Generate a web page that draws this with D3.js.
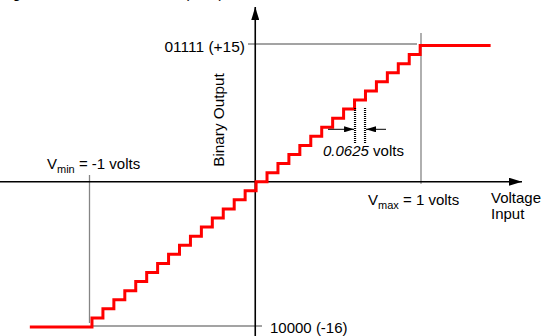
<!DOCTYPE html>
<html><head><meta charset="utf-8">
<script src="https://cdn.jsdelivr.net/npm/d3@7"></script>
<style>
html,body{margin:0;padding:0;background:#fff;}
svg{display:block;font-family:"Liberation Sans",Arial,sans-serif;}
</style></head>
<body><svg id="c" width="560" height="336"></svg>
<script>
// output codes (two's complement 5-bit) and the input voltage where each code begins
const codes = [-15,-14,-13,-12,-11,-10,-9,-8,-7,-6,-5,-4,-3,-2,-1,0,1,2,3,4,5,6,7,8,9,10,11,12,13,14,15];
const transitions = [-0.985,-0.919,-0.853,-0.787,-0.721,-0.655,-0.589,-0.523,-0.457,-0.391,-0.325,-0.259,-0.193,-0.127,-0.061,0.005,0.071,0.137,0.203,0.269,0.335,0.401,0.467,0.533,0.599,0.665,0.731,0.797,0.863,0.929,0.995];
const lowCode = -16, highCode = 15;
const inputStart = -1.36, inputEnd = 1.42;
const vMin = -1, vMax = 1;
const lsbLabel = "0.0625";

const svg = d3.select("#c");
const x = d3.scaleLinear().domain([-1, 1]).range([89.5, 421]);
const y = d3.scaleLinear().domain([-16, 15]).range([327, 45.5]);
const x0 = x(0), y0 = y(0);

const defs = svg.append("defs");
function marker(id, w, h) {
  defs.append("marker").attr("id", id).attr("viewBox", `0 0 ${w} ${h}`)
    .attr("refX", w).attr("refY", h/2).attr("markerWidth", w).attr("markerHeight", h)
    .attr("markerUnits", "userSpaceOnUse").attr("orient", "auto")
    .append("path").attr("d", `M0,0L${w},${h/2}L0,${h}Z`).attr("fill", "#000");
}
marker("ah", 13, 8);
marker("ahs", 10, 6);

// cut-off caption at top
svg.append("text").attr("x", 0).attr("y", -2.2).attr("font-size", 15)
  .text("Figure 2. Transfer Function (5-bit)");

// gray reference lines
const g = svg.append("g").attr("stroke", "#858585").attr("stroke-width", 1.3).attr("fill", "none");
g.append("line").attr("x1", 248).attr("x2", 417).attr("y1", y(highCode) - 1.5).attr("y2", y(highCode) - 1.5);
g.append("line").attr("x1", x(vMax)).attr("x2", x(vMax)).attr("y1", 33).attr("y2", y0 + 2);
g.append("line").attr("x1", x(vMin)).attr("x2", x(vMin)).attr("y1", 175).attr("y2", 323);
g.append("line").attr("x1", 92).attr("x2", 262).attr("y1", y(lowCode) - 1).attr("y2", y(lowCode) - 1);

// axes
svg.append("line").attr("x1", 0).attr("x2", 522).attr("y1", y0).attr("y2", y0)
  .attr("stroke", "#000").attr("stroke-width", 1.6).attr("marker-end", "url(#ah)");
svg.append("line").attr("x1", x0).attr("x2", x0).attr("y1", 340).attr("y2", 7)
  .attr("stroke", "#000").attr("stroke-width", 1.6).attr("marker-end", "url(#ah)");

// staircase
const pts = [[inputStart, lowCode]].concat(transitions.map((t, i) => [t, codes[i]])).concat([[inputEnd, highCode]]);
svg.append("path").datum(pts)
  .attr("d", d3.line().x(d => x(d[0])).y(d => y(d[1])).curve(d3.curveStepAfter))
  .attr("fill", "none").attr("stroke", "#ff0000").attr("stroke-width", 3);

// LSB annotation
const ax1 = x(transitions[24]) + 0.5, ax2 = ax1 + 10;
[ax1, ax2].forEach(xx => svg.append("line").attr("x1", xx).attr("x2", xx).attr("y1", 108).attr("y2", 143)
  .attr("stroke", "#000").attr("stroke-width", 2.2).attr("stroke-dasharray", "1,1"));
svg.append("line").attr("x1", 328).attr("x2", ax1 - 1).attr("y1", 129.3).attr("y2", 129.3)
  .attr("stroke", "#000").attr("stroke-width", 1).attr("marker-end", "url(#ahs)");
svg.append("line").attr("x1", 386).attr("x2", ax2 + 1).attr("y1", 129.3).attr("y2", 129.3)
  .attr("stroke", "#000").attr("stroke-width", 1).attr("marker-end", "url(#ahs)");
const lt = svg.append("text").attr("x", 323).attr("y", 156).attr("font-size", 15);
lt.append("tspan").attr("font-style", "italic").text(lsbLabel);
lt.append("tspan").text(" volts");

// labels
svg.append("text").attr("x", 245).attr("y", 51.5).attr("font-size", 15.5).attr("text-anchor", "end")
  .text(`01111 (+${highCode})`);
svg.append("text").attr("x", 270).attr("y", 333).attr("font-size", 15)
  .text(`10000 (${lowCode})`);
svg.append("text").attr("transform", `translate(224,120) rotate(-90)`).attr("font-size", 15.3)
  .attr("text-anchor", "middle").text("Binary Output");

const vm = svg.append("text").attr("x", 47).attr("y", 168.5).attr("font-size", 15);
vm.append("tspan").text("V");
vm.append("tspan").attr("font-size", 11).attr("dy", 4).text("min");
vm.append("tspan").attr("dy", -4).text(` = ${vMin} volts`);

const vx = svg.append("text").attr("x", 368).attr("y", 205).attr("font-size", 15);
vx.append("tspan").text("V");
vx.append("tspan").attr("font-size", 11).attr("dy", 4).text("max");
vx.append("tspan").attr("dy", -4).text(` = ${vMax} volts`);

const vi = svg.append("text").attr("x", 491).attr("y", 202.7).attr("font-size", 15);
vi.append("tspan").text("Voltage");
vi.append("tspan").attr("x", 491).attr("dy", 16.6).text("Input");
</script></body></html>
